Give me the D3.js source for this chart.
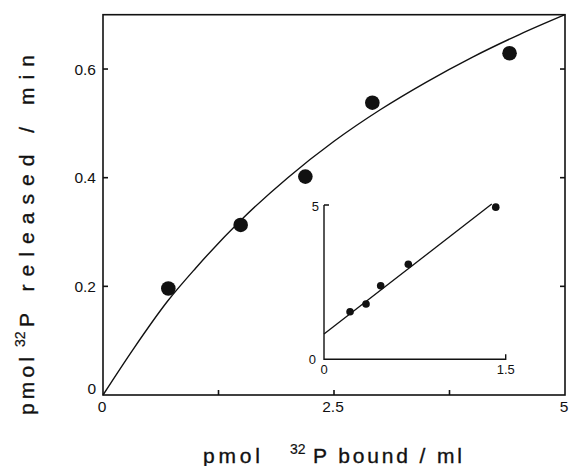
<!DOCTYPE html>
<html><head><meta charset="utf-8">
<script src="https://cdn.jsdelivr.net/npm/d3@7"></script>
<style>body{margin:0;background:#fff}svg{display:block}text{font-family:"Liberation Sans",Arial,sans-serif;fill:#111}</style>
</head><body><svg id="c" width="571" height="466"></svg>
<script>
// Main panel data
const mainX = [0.707, 1.49, 2.19, 2.915, 4.40];
const mainY = [0.196, 0.313, 0.402, 0.538, 0.629];
// Fitted curve
const curveX = [0, 0.33, 0.7, 1.0, 1.5, 2.0, 2.5, 3.0, 3.5, 4.0, 4.5, 5.0];
const curveY = [0, 0.085, 0.173, 0.233, 0.323, 0.40, 0.467, 0.525, 0.576, 0.622, 0.663, 0.70];
const mainXTicks = [0, 1.25, 2.5, 3.75, 5];
const mainXTickLabels = ["0", "", "2.5", "", "5"];
const mainYTicks = [0, 0.2, 0.4, 0.6];
const mainYTickLabels = ["0", "0.2", "0.4", "0.6"];
// Inset (double reciprocal) data
const insetX = [0.215, 0.347, 0.468, 0.696, 1.418];
const insetY = [1.54, 1.79, 2.385, 3.08, 4.93];
const insetLineX = [0, 1.385];
const insetLineY = [0.82, 5.03];
const insetXTickLabels = ["0", "1.5"];
const insetYTickLabels = ["0", "5"];

const svg = d3.select("#c");
const ink = "#111";

const x = d3.scaleLinear().domain([0, 5]).range([103, 565]);
const y = d3.scaleLinear().domain([0, 0.7]).range([395, 14.7]);

// frame
svg.append("rect").attr("x", x(0)).attr("y", y(0.7)).attr("width", x(5) - x(0)).attr("height", y(0) - y(0.7))
  .attr("fill", "none").attr("stroke", ink).attr("stroke-width", 1.6);

// ticks (inward)
const tk = svg.append("g").attr("stroke", ink).attr("stroke-width", 1.6);
mainYTicks.slice(1).forEach(v => {
  tk.append("line").attr("x1", x(0)).attr("x2", x(0) + 5).attr("y1", y(v)).attr("y2", y(v));
  tk.append("line").attr("x1", x(5)).attr("x2", x(5) - 5).attr("y1", y(v)).attr("y2", y(v));
});
mainXTicks.slice(1, -1).forEach(v => {
  tk.append("line").attr("x1", x(v)).attr("x2", x(v)).attr("y1", y(0)).attr("y2", y(0) - 5);
});

// tick labels
mainYTicks.forEach((v, i) => {
  svg.append("text").attr("x", 96).attr("y", v === 0 ? y(v) - 1 : y(v) + 5.5)
    .attr("text-anchor", "end").attr("font-size", 15.5).text(mainYTickLabels[i]);
});
mainXTicks.forEach((v, i) => {
  if (!mainXTickLabels[i]) return;
  svg.append("text").attr("x", x(v) - 1).attr("y", 412)
    .attr("text-anchor", "middle").attr("font-size", 15.5).text(mainXTickLabels[i]);
});

// curve
const curvePts = curveX.map((d, i) => [d, curveY[i]]);
svg.append("path").datum(curvePts)
  .attr("d", d3.line().x(d => x(d[0])).y(d => y(d[1])).curve(d3.curveMonotoneX))
  .attr("fill", "none").attr("stroke", ink).attr("stroke-width", 1.4);

// points
svg.selectAll("circle.m").data(mainX.map((d, i) => [d, mainY[i]])).enter().append("circle")
  .attr("class", "m").attr("cx", d => x(d[0])).attr("cy", d => y(d[1])).attr("r", 7.3).attr("fill", ink);

// Inset
const ix = d3.scaleLinear().domain([0, 1.5]).range([324, 505.7]);
const iy = d3.scaleLinear().domain([0, 5]).range([359.3, 205]);
const ia = svg.append("g").attr("stroke", ink).attr("stroke-width", 1.4).attr("fill", "none");
ia.append("path").attr("d", `M${ix(0)},${iy(5)}H${ix(0) + 5}M${ix(0)},${iy(5)}V${iy(0)}H${ix(1.5)}V${iy(0) - 5}`);
svg.append("line").attr("x1", ix(insetLineX[0])).attr("y1", iy(insetLineY[0]))
  .attr("x2", ix(insetLineX[1])).attr("y2", iy(insetLineY[1])).attr("stroke", ink).attr("stroke-width", 1.3);
svg.selectAll("circle.i").data(insetX.map((d, i) => [d, insetY[i]])).enter().append("circle")
  .attr("class", "i").attr("cx", d => ix(d[0])).attr("cy", d => iy(d[1])).attr("r", 3.8).attr("fill", ink);
svg.append("text").attr("x", ix(0) - 5).attr("y", iy(5) + 6).attr("text-anchor", "end").attr("font-size", 13).text(insetYTickLabels[1]);
svg.append("text").attr("x", ix(0) - 8).attr("y", iy(0) + 5).attr("text-anchor", "end").attr("font-size", 13).text(insetYTickLabels[0]);
svg.append("text").attr("x", ix(0)).attr("y", 374).attr("text-anchor", "middle").attr("font-size", 13).text(insetXTickLabels[0]);
svg.append("text").attr("x", ix(1.5)).attr("y", 374).attr("text-anchor", "middle").attr("font-size", 13).text(insetXTickLabels[1]);

// X axis title
const tStyle = t => t.attr("font-size", 21).attr("stroke", ink).attr("stroke-width", 0.35);
tStyle(svg.append("text").attr("x", 203).attr("y", 463)).attr("textLength", 57).attr("lengthAdjust", "spacing").text("pmol");
tStyle(svg.append("text").attr("x", 290).attr("y", 454)).attr("font-size", 14).attr("stroke-width", 0.2).text("32");
tStyle(svg.append("text").attr("x", 313).attr("y", 463)).attr("textLength", 149).attr("lengthAdjust", "spacing").text("P bound / ml");

// Y axis title
const yg = svg.append("g").attr("transform", "translate(34,0) rotate(-90)");
tStyle(yg.append("text").attr("x", -415).attr("y", 0)).attr("textLength", 58).attr("lengthAdjust", "spacing").text("pmol");
tStyle(yg.append("text").attr("x", -347).attr("y", -9)).attr("font-size", 14).attr("stroke-width", 0.2).text("32");
tStyle(yg.append("text").attr("x", -327).attr("y", 0)).attr("textLength", 272).attr("lengthAdjust", "spacing").text("P released / min");
</script></body></html>
